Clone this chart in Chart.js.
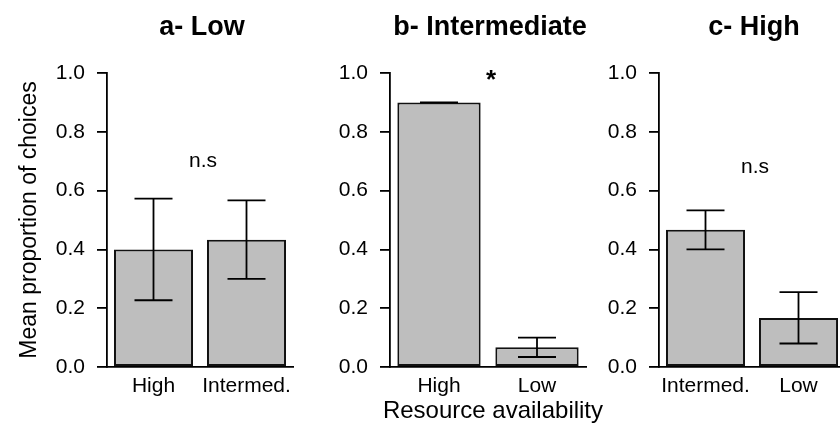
<!DOCTYPE html>
<html>
<head>
<meta charset="utf-8">
<script src="https://cdn.jsdelivr.net/npm/chart.js@4"></script>
<style>
  html, body { margin: 0; padding: 0; background: #fff; overflow: hidden; }
  #wrap { position: relative; width: 840px; height: 437px; overflow: hidden; }
  canvas { position: absolute; top: 0; }
  #xtitle {
    position: absolute; left: 343px; width: 300px; top: 396px;
    text-align: center; font: 24px "Liberation Sans", Arial, sans-serif; color: #000;
  }
</style>
</head>
<body>
<div id="wrap">
  <canvas id="panelA" width="300" height="437" style="left:0px"></canvas>
  <canvas id="panelB" width="290" height="437" style="left:300px"></canvas>
  <canvas id="panelC" width="265" height="437" style="left:580px"></canvas>
  <div id="xtitle">Resource availability</div>
</div>
<script>
(function() {
    'use strict';

    // Panel a - Low
    var lowCats = ['High', 'Intermed.'];
    var lowMeans = [0.400, 0.433];
    var lowLower = [0.227, 0.300];
    var lowUpper = [0.573, 0.567];

    // Panel b - Intermediate
    var intCats = ['High', 'Low'];
    var intMeans = [0.900, 0.067];
    var intLower = [0.900, 0.034];
    var intUpper = [0.900, 0.100];

    // Panel c - High
    var highCats = ['Intermed.', 'Low'];
    var highMeans = [0.467, 0.167];
    var highLower = [0.400, 0.080];
    var highUpper = [0.533, 0.255];

    var panelTitles = ['a- Low', 'b- Intermediate', 'c- High'];
    var noteTexts = ['n.s', '*', 'n.s'];
    var noteValues = [0.70, 0.975, 0.68];
    var yTicks = [0, 0.2, 0.4, 0.6, 0.8, 1.0];

    var FONT = '"Liberation Sans", Arial, sans-serif';
    Chart.defaults.font.family = FONT;
    Chart.defaults.color = '#000';

    /**
     * Error bars, panel title and significance note.
     */
    var panelExtras = {
        id: 'panelExtras',
        afterDatasetsDraw: function(chart, args, opts) {
            var ctx = chart.ctx;
            var y = chart.scales.y;
            var x = chart.scales.x;
            var area = chart.chartArea;
            var meta = chart.getDatasetMeta(0);
            var half = 19;

            ctx.save();
            ctx.strokeStyle = '#000';
            ctx.lineWidth = 1.8;
            meta.data.forEach(function(bar, i) {
                var lo = y.getPixelForValue(opts.lower[i]);
                var hi = y.getPixelForValue(opts.upper[i]);
                ctx.beginPath();
                ctx.moveTo(bar.x, lo); ctx.lineTo(bar.x, hi);
                ctx.moveTo(bar.x - half, lo); ctx.lineTo(bar.x + half, lo);
                ctx.moveTo(bar.x - half, hi); ctx.lineTo(bar.x + half, hi);
                ctx.stroke();
            });

            ctx.fillStyle = '#000';
            ctx.textAlign = 'center';
            ctx.textBaseline = 'middle';
            ctx.font = 'bold 27px ' + FONT;
            ctx.fillText(opts.title, (area.left + area.right) / 2 + 2, 28);

            // a lone star reads much smaller than letters, so bump it
            ctx.font = (opts.note === '*' ? 'bold 26px ' : '21px ') + FONT;
            ctx.fillText(opts.note, x.getPixelForValue(0.5) + 3, y.getPixelForValue(opts.noteY));
            ctx.restore();
        }
    };

    function makePanel(canvasId, cats, means, lower, upper, idx, yWidth, yTitle, padRight) {
        var el = document.getElementById(canvasId);
        return new Chart(el.getContext('2d'), {
            type: 'bar',
            data: {
                labels: cats,
                datasets: [{
                    data: means,
                    backgroundColor: '#bebebe',
                    borderColor: '#111',
                    borderWidth: 2,
                    borderSkipped: false,
                    categoryPercentage: 1.0,
                    barPercentage: 0.85
                }]
            },
            options: {
                responsive: false,
                animation: false,
                events: [],
                layout: { padding: { top: 73, right: padRight, left: 0, bottom: 0 } },
                plugins: {
                    legend: { display: false },
                    tooltip: { enabled: false },
                    panelExtras: {
                        lower: lower,
                        upper: upper,
                        title: panelTitles[idx],
                        note: noteTexts[idx],
                        noteY: noteValues[idx]
                    }
                },
                scales: {
                    x: {
                        grid: { display: false, drawTicks: false },
                        border: { display: true, color: '#000', width: 1.8 },
                        ticks: { font: { size: 21 }, padding: 7, maxRotation: 0, autoSkip: false },
                        afterFit: function(s) { s.height = 70; }
                    },
                    y: {
                        min: 0,
                        max: 1,
                        afterBuildTicks: function(s) {
                            s.ticks = yTicks.map(function(v) { return { value: v }; });
                        },
                        ticks: {
                            font: { size: 21 },
                            padding: 12,
                            callback: function(v) { return Number(v).toFixed(1); }
                        },
                        grid: {
                            drawOnChartArea: false,
                            drawTicks: true,
                            tickLength: 10,
                            color: '#000',
                            lineWidth: 1.8
                        },
                        border: { display: true, color: '#000', width: 1.8 },
                        title: {
                            display: !!yTitle,
                            text: yTitle || '',
                            font: { size: 23 },
                            padding: { top: 16, bottom: 0 }
                        },
                        afterFit: function(s) { s.width = yWidth; }
                    }
                }
            },
            plugins: [panelExtras]
        });
    }

    makePanel('panelA', lowCats, lowMeans, lowLower, lowUpper, 0, 107, 'Mean proportion of choices', 7);
    makePanel('panelB', intCats, intMeans, intLower, intUpper, 1, 90, null, 4);
    makePanel('panelC', highCats, highMeans, highLower, highUpper, 2, 79, null, 0);
})();
</script>
</body>
</html>
